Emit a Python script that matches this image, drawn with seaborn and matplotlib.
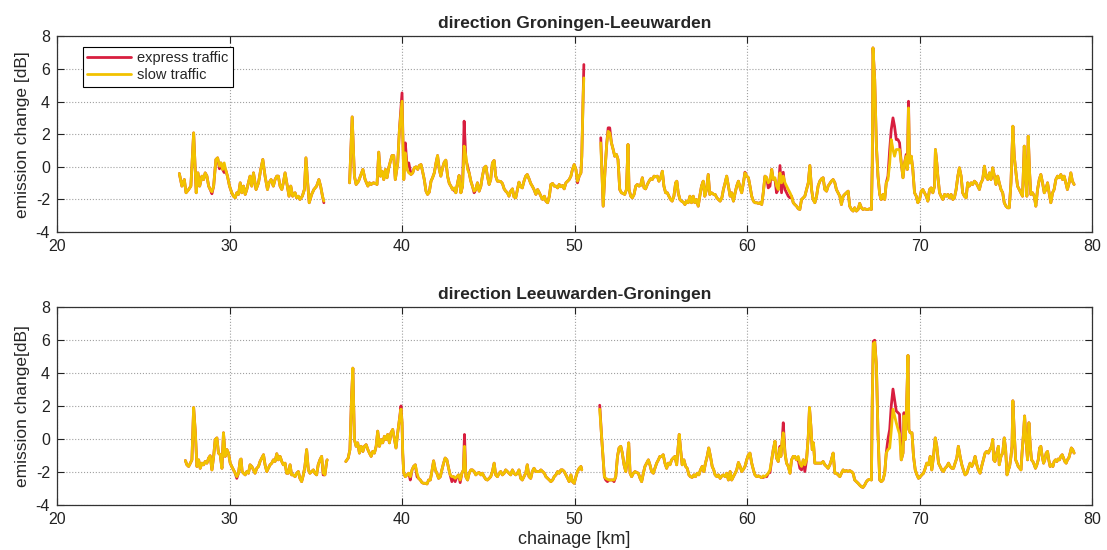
import matplotlib
matplotlib.use("Agg")
import matplotlib.pyplot as plt
import pandas as pd
import seaborn as sns

# ---------------- data: emission change [dB] along the chainage [km] ----------------
# direction Groningen-Leeuwarden (top)
top_km_1 = [27.09, 27.24, 27.38, 27.48, 27.63, 27.76, 27.92, 28.07, 28.17, 28.27,
            28.40, 28.50, 28.59, 28.69, 28.79, 28.88, 28.98, 29.08, 29.21, 29.31,
            29.42, 29.50, 29.60, 29.69, 29.77, 29.88, 30.00, 30.13, 30.23, 30.33,
            30.42, 30.52, 30.62, 30.71, 30.81, 30.91, 31.00, 31.19, 31.29, 31.39,
            31.54, 31.68, 31.81, 31.93, 32.06, 32.20, 32.29, 32.41, 32.54, 32.64,
            32.74, 32.83, 32.93, 33.03, 33.12, 33.22, 33.35, 33.45, 33.55, 33.66,
            33.80, 33.89, 33.99, 34.08, 34.22, 34.34, 34.43, 34.53, 34.62, 34.76,
            34.89, 35.05, 35.18, 35.28, 35.39, 35.47]
top_slow_1 = [-0.41, -1.18, -0.78, -1.59, -1.39, -1.18, 2.08, -1.59, -0.37, -1.18,
              -0.57, -0.78, -0.37, -0.57, -1.18, -1.39, -1.53, -1.18, 0.45, 0.55,
              0.04, 0.24, -0.16, 0.24, -0.16, -0.57, -1.18, -1.59, -1.80, -1.90,
              -1.59, -1.69, -0.98, -1.59, -1.18, -1.69, -1.39, -0.57, -1.18, -0.37,
              -1.39, -0.98, -0.16, 0.45, -0.57, -1.39, -0.98, -0.78, -1.18, -0.78,
              -0.57, -0.57, -1.18, -1.39, -0.98, -0.37, -1.18, -1.80, -1.18, -1.80,
              -1.59, -1.90, -1.80, -2.00, -1.80, -1.39, 0.55, -0.98, -2.20, -1.69,
              -1.39, -1.18, -0.78, -1.18, -1.80, -2.10]

top_km_2 = [36.96, 37.11, 37.24, 37.34, 37.48, 37.59, 37.73, 37.86, 38.02, 38.11,
            38.21, 38.34, 38.46, 38.55, 38.65, 38.75, 38.84, 38.94, 39.04, 39.13,
            39.23, 39.33, 39.42, 39.52, 39.61, 39.75, 39.85, 40.00,
            40.10, 40.19, 40.29, 40.39,
            40.52, 40.62, 40.71, 40.81, 40.91, 41.00, 41.10, 41.19, 41.29, 41.39,
            41.48, 41.58, 41.68, 41.77, 41.87, 41.97, 42.06, 42.16, 42.25, 42.35,
            42.45, 42.54, 42.64, 42.74, 42.83, 42.93, 43.03, 43.12, 43.22, 43.31,
            43.41, 43.51, 43.60, 43.70, 43.80, 43.89, 43.99, 44.08, 44.18, 44.28,
            44.37, 44.47, 44.57, 44.66, 44.76, 44.86, 44.95, 45.05, 45.14, 45.24,
            45.34, 45.43, 45.53, 45.63, 45.72, 45.82, 45.92, 46.01, 46.11, 46.20,
            46.30, 46.40, 46.49, 46.59, 46.69, 46.78, 46.88, 46.97, 47.07, 47.17,
            47.26, 47.36, 47.46, 47.55, 47.65,
            47.76, 47.86, 47.96, 48.05, 48.15, 48.25, 48.34, 48.44, 48.54, 48.63,
            48.73, 48.82, 48.92, 49.02, 49.11, 49.21, 49.31, 49.40, 49.50, 49.60,
            49.69, 49.79, 49.88, 49.98, 50.08, 50.17, 50.27, 50.37, 50.42, 50.50,
            50.54]
top_slow_2 = [-0.98, 3.06, -0.57, -1.08, -0.88, -0.57, -0.16, -0.78, -1.18, -0.98,
              -1.08, -0.98, -1.02, -1.08, 0.90, -0.57, -0.27, -0.78, -0.16, -0.67,
              -0.06, 0.35, 0.69, 0.69, -0.78, 0.24, 2.29, 4.02,
              -0.78, 0.86, -0.16, -0.37,
              -0.47, -0.37, -0.06, 0.00, -0.16, 0.08, 0.14, -0.27, -0.78, -1.49,
              -1.69, -1.55, -0.88, -0.67, -0.37, 0.24, 0.69, -0.16, -0.57, -0.06,
              0.29, 0.41, -0.57, -1.02, -1.18, -1.39, -1.29, -1.59, -0.98, -0.53,
              -1.59, -1.18, 1.27, 0.65, -0.16, -0.37, -0.88, -1.18, -1.49, -1.39,
              -0.98, -1.49, -1.18, -0.57, -0.06, 0.04, -0.57, -1.08, -0.78, 0.24,
              0.39, -0.57, -0.88, -0.88, -0.90, -1.02, -1.35, -1.49, -1.59, -1.80,
              -1.49, -1.35, -1.84, -1.90, -1.39, -0.94, -1.22, -1.29, -0.88, -0.57,
              -0.47, -0.73, -1.02, -1.18, -1.39,
              -1.69, -1.39, -1.59, -1.80, -2.00, -1.80, -2.10, -2.20, -1.80, -1.08,
              -1.02, -1.18, -1.18, -1.29, -1.08, -1.22, -1.14, -1.35, -0.98, -0.88,
              -0.78, -0.57, -0.16, 0.14, -0.16, -0.88, -0.57, -0.37, 0.65, 4.33,
              5.45]

top_km_3 = [51.52, 51.66, 51.77, 51.87, 51.95, 52.04, 52.14, 52.24, 52.33, 52.43,
            52.52, 52.62, 52.72, 52.81, 52.91, 53.01, 53.10, 53.16,
            53.26, 53.35, 53.45, 53.55, 53.64, 53.74, 53.83, 53.93, 54.03, 54.12,
            54.22, 54.32, 54.41, 54.51, 54.61, 54.70, 54.80, 54.89, 54.99, 55.09,
            55.18, 55.28, 55.38, 55.47, 55.57, 55.66, 55.76, 55.86, 55.93,
            56.01, 56.11, 56.20, 56.30, 56.40, 56.49, 56.59, 56.69, 56.78, 56.88,
            56.97, 57.07, 57.17, 57.26, 57.36, 57.46, 57.55, 57.65, 57.75, 57.84,
            57.94, 58.07,
            58.15, 58.25, 58.34, 58.44, 58.54, 58.63, 58.73, 58.82, 58.92, 59.02,
            59.11, 59.21, 59.31, 59.40, 59.50, 59.60, 59.69, 59.79, 59.88,
            59.98, 60.08, 60.17, 60.27, 60.37, 60.46, 60.56, 60.66, 60.75, 60.85,
            60.94, 61.04, 61.14, 61.23, 61.33, 61.43, 61.52, 61.62, 61.71, 61.81,
            61.91, 62.00, 62.10, 62.20, 62.29, 62.39, 62.49, 62.58, 62.68, 62.77,
            62.87, 62.97, 63.06, 63.16, 63.26, 63.35, 63.45, 63.55, 63.64, 63.74,
            63.83, 63.93, 64.03, 64.12, 64.22, 64.32, 64.41, 64.51, 64.61, 64.70,
            64.80, 64.89, 64.99, 65.09, 65.18, 65.28, 65.38, 65.47, 65.57, 65.66,
            65.76, 65.86, 65.95, 66.05, 66.15, 66.24, 66.34, 66.44, 66.53, 66.63,
            66.72, 66.82, 66.92, 67.01, 67.11, 67.21, 67.26, 67.30,
            67.40, 67.50, 67.59, 67.69, 67.78, 67.88, 67.98, 68.07, 68.17, 68.27,
            68.36,
            68.46, 68.55, 68.65, 68.75, 68.84, 68.94, 69.04, 69.13, 69.23, 69.29,
            69.36,
            69.42, 69.52, 69.61, 69.71, 69.81, 69.90, 70.00, 70.10, 70.19, 70.29,
            70.39, 70.48, 70.58, 70.67, 70.77, 70.87, 70.92, 71.00,
            71.06, 71.16, 71.25, 71.35, 71.45, 71.54, 71.64, 71.73, 71.83, 71.93,
            72.02, 72.12, 72.22, 72.31, 72.41, 72.50, 72.60, 72.70, 72.79, 72.89,
            72.99, 73.08, 73.18, 73.28, 73.37, 73.47, 73.56, 73.66, 73.76, 73.85,
            73.95, 74.05, 74.14, 74.24, 74.34, 74.43, 74.53, 74.62, 74.72, 74.82,
            74.91, 75.01, 75.11, 75.20, 75.30, 75.41,
            75.49, 75.59, 75.68, 75.78, 75.88, 75.97, 76.07, 76.15, 76.22, 76.30,
            76.38,
            76.45, 76.55, 76.65, 76.74, 76.84, 76.94, 77.03, 77.13, 77.23, 77.32,
            77.42, 77.51, 77.61, 77.71, 77.80, 77.90, 78.00, 78.09, 78.19, 78.29,
            78.38, 78.48, 78.57, 78.67, 78.77, 78.86, 78.96]
top_slow_3 = [1.47, -2.41, -0.16, 1.47, 2.18, 2.08, 1.47, 1.06, 0.65, 0.76,
              0.45, -1.39, -1.59, -1.63, -1.69, -1.39, 1.37, -1.39,
              -1.80, -1.90, -1.69, -1.18, -1.08, -1.18, -1.14, -0.67, -1.29, -1.35,
              -1.08, -0.88, -0.73, -0.78, -0.57, -0.61, -0.57, -0.88, -0.67, -0.27,
              -1.18, -1.59, -1.59, -1.80, -2.00, -2.10, -1.80, -0.98, -0.88,
              -1.59, -2.00, -2.10, -2.16, -2.31, -2.10, -2.20, -1.80, -2.20, -1.80,
              -2.20, -2.00, -2.41, -1.80, -1.18, -0.88, -1.80, -1.39, -0.47, -1.69,
              -1.59, -1.69,
              -1.69, -1.90, -2.00, -2.10, -1.90, -1.39, -0.98, -0.57, -1.18, -1.80,
              -1.59, -2.10, -1.59, -1.18, -0.88, -1.29, -1.59, -0.98, -0.37,
              -0.57, -0.67, -1.18, -1.80, -2.10, -2.20, -2.20, -2.24, -2.20, -2.31,
              -1.59, -0.57, -0.67, -0.98, -0.88, -0.16, -0.78, -0.67, -1.18, -1.39,
              -0.37, -0.98, -0.57, -0.98, -1.18, -1.39, -1.59, -1.80, -2.20, -2.31,
              -2.41, -2.57, -2.61, -2.00, -1.90, -1.80, -1.39, -0.98, 0.08, -1.39,
              -2.00, -2.20, -1.80, -1.18, -0.88, -0.73, -0.67, -1.39, -1.49, -1.18,
              -1.02, -0.88, -0.78, -0.98, -1.39, -1.59, -1.80, -2.31, -1.80, -1.69,
              -1.59, -1.49, -2.41, -2.61, -2.71, -2.51, -2.71, -2.61, -2.24, -2.51,
              -2.61, -2.57, -2.61, -2.61, -2.57, -2.61, 0.24, 7.29,
              5.35, 1.27, -0.57, -1.69, -2.00, -1.69, -2.00, -0.98, -0.78, 0.24,
              1.67,
              1.06, 0.65, 1.06, 1.06, 1.06, 0.24, -0.67, 0.24, 0.65, -0.16,
              3.61,
              0.24, 0.65, -0.16, -1.59, -1.80, -2.20, -2.00, -1.49, -1.39, -1.59,
              -1.80, -2.10, -1.39, -1.29, -1.59, -1.18, 1.06, 0.24,
              -0.57, -1.59, -1.80, -2.00, -1.69, -1.80, -1.69, -1.90, -1.69, -2.00,
              -1.90, -1.39, -0.57, -0.06, -0.57, -1.59, -1.80, -1.90, -0.98, -1.18,
              -0.98, -1.08, -0.88, -0.98, -1.18, -1.39, -0.98, -0.78, 0.04, -0.57,
              -0.78, -0.37, -0.78, -0.06, -0.57, -1.08, -0.57, -0.98, -1.39, -1.59,
              -2.20, -2.41, -2.51, -2.51, -0.98, 2.49,
              0.65, -0.37, -1.18, -1.39, -1.59, -1.80, 1.27, -0.57, -1.80, 1.88,
              -0.37,
              -1.69, -1.59, -1.80, -2.41, -1.39, -0.78, -0.47, -0.98, -1.59, -1.39,
              -0.98, -1.59, -2.20, -1.59, -1.39, -0.78, -0.57, -0.67, -0.47, -0.78,
              -0.57, -0.98, -1.39, -0.98, -0.37, -0.88, -1.08]

# express traffic equals slow traffic except at these chainages
top_express_km = [28.98, 29.42, 29.69, 35.47, 40.00, 40.19, 40.29, 40.39, 43.03, 43.60,
                  43.70, 43.80, 44.18, 50.17, 50.54, 51.52, 51.95, 52.04, 59.88, 61.23,
                  61.33, 61.62, 61.71, 61.91, 62.00, 62.10, 62.20, 62.29, 62.39, 62.49,
                  68.17, 68.27, 68.36, 68.46, 68.55, 68.65, 68.75, 68.84, 69.23, 69.36]
top_express_val = [-1.65, -0.12, -0.35, -2.20, 4.53, 1.47, 0.04, 0.24, -1.45, 2.80,
                   0.45, 0.04, -1.59, -0.98, 6.27, 1.78, 2.39, 2.39, -0.33, -1.29,
                   -1.18, -0.78, -1.59, 0.08, -1.59, -0.33, -1.39, -1.59, -1.80, -1.90,
                   -0.57, 1.06, 2.29, 3.00, 2.49, 1.67, 1.67, 1.47, 0.76, 4.02]

# direction Leeuwarden-Groningen (bottom)
bot_km_1 = [27.44, 27.53, 27.63, 27.73, 27.82, 27.92, 28.02, 28.11, 28.21, 28.30,
            28.40, 28.50, 28.59, 28.69, 28.79, 28.88, 28.98, 29.08, 29.17, 29.27,
            29.36, 29.46, 29.56, 29.65, 29.75, 29.85, 29.94, 30.04, 30.13, 30.23,
            30.33, 30.42, 30.52, 30.62, 30.67, 30.73,
            30.81, 30.91, 31.00, 31.10, 31.19, 31.29, 31.39, 31.48, 31.58, 31.68,
            31.77, 31.87, 31.97, 32.06, 32.16, 32.25, 32.35, 32.45, 32.54, 32.64,
            32.74, 32.83, 32.93, 33.03, 33.12, 33.22, 33.31, 33.41, 33.51, 33.60,
            33.70, 33.80, 33.89, 33.99, 34.08, 34.18, 34.28, 34.37, 34.47, 34.57,
            34.66, 34.76, 34.86, 34.95, 35.05, 35.14, 35.24, 35.34, 35.43, 35.53,
            35.63, 35.66]
bot_slow_1 = [-1.31, -1.57, -1.67, -1.47, -1.27, 1.90, 0.37, -1.67, -1.27, -1.78,
              -1.47, -1.57, -1.37, -1.47, -1.16, -1.02, -1.88, -1.06, -0.04, 0.06,
              -0.86, -0.96, -1.78, 0.37, -1.06, -0.65, -0.86, -1.47, -1.67, -1.88,
              -2.08, -2.29, -2.08, -1.27, -1.22, -1.98,
              -2.08, -2.18, -1.98, -2.08, -1.57, -1.67, -1.88, -2.08, -1.78, -1.67,
              -1.37, -1.16, -0.96, -1.57, -1.98, -1.78, -1.57, -1.47, -1.27, -1.37,
              -0.90, -1.27, -1.06, -1.37, -1.57, -1.47, -2.08, -2.08, -1.57, -2.18,
              -2.18, -2.29, -2.08, -1.98, -2.39, -2.59, -2.18, -1.67, -0.65, -1.88,
              -2.08, -1.98, -1.88, -2.08, -2.18, -1.57, -1.27, -1.06, -2.08, -2.18,
              -1.37, -1.27]

bot_km_2 = [36.74, 36.88, 36.98, 37.07, 37.15,
            37.24, 37.34, 37.43, 37.53, 37.63, 37.73, 37.82, 37.92, 38.02, 38.11,
            38.21, 38.30, 38.40, 38.50, 38.59, 38.69, 38.79, 38.88, 38.98, 39.08,
            39.17, 39.27, 39.36, 39.46, 39.56, 39.65, 39.75, 39.85, 39.94,
            40.00, 40.04,
            40.10, 40.19, 40.29, 40.39, 40.48, 40.58, 40.67, 40.77, 40.87, 40.96,
            41.06, 41.16, 41.25, 41.35, 41.45, 41.54, 41.64, 41.73, 41.83, 41.93,
            42.02, 42.12, 42.22, 42.31, 42.41, 42.50, 42.60, 42.70, 42.79, 42.89,
            42.99, 43.08, 43.18, 43.28, 43.37, 43.47, 43.56, 43.62,
            43.70, 43.80, 43.89, 43.99, 44.08, 44.18, 44.28, 44.37, 44.47, 44.57,
            44.66, 44.76, 44.86, 44.95, 45.05, 45.14, 45.24, 45.34, 45.43, 45.53,
            45.63, 45.72, 45.82, 45.92, 46.01, 46.11, 46.20, 46.30, 46.40, 46.49,
            46.59, 46.69, 46.78, 46.88, 46.97, 47.07, 47.17, 47.26, 47.36, 47.46,
            47.55, 47.65,
            47.76, 47.86, 47.96, 48.05, 48.15, 48.25, 48.34, 48.44, 48.54, 48.63,
            48.73, 48.82, 48.92, 49.02, 49.11, 49.21, 49.31, 49.40, 49.50, 49.60,
            49.69, 49.79, 49.88, 49.98, 50.08, 50.17, 50.27, 50.37, 50.42]
bot_slow_2 = [-1.37, -1.16, -0.65, 2.41, 4.29,
              -0.04, -0.45, -0.24, -0.86, -0.45, -0.76, -0.45, -0.35, -0.65, -0.86,
              -1.06, -0.76, -0.86, -0.45, 0.47, -0.45, -0.04, -0.24, 0.16, -0.04,
              0.27, -0.24, 0.37, 0.57, -0.04, -0.55, 0.37, 1.18, 1.80,
              0.98, -0.86,
              -2.08, -2.29, -2.18, -2.08, -2.29, -1.88, -1.67, -1.57, -2.08, -2.39,
              -2.49, -2.65, -2.69, -2.69, -2.73, -2.49, -2.49, -1.98, -1.33, -1.88,
              -2.08, -2.39, -2.29, -1.88, -1.47, -1.16, -1.27, -1.78, -2.18, -2.29,
              -2.29, -2.39, -2.29, -2.18, -2.49, -2.08, -1.88, -0.45,
              -2.29, -2.49, -2.08, -1.88, -1.88, -1.98, -2.18, -2.08, -2.04, -2.18,
              -2.08, -2.29, -2.45, -2.49, -2.39, -2.29, -1.98, -1.47, -2.18, -2.29,
              -2.08, -1.98, -2.18, -2.08, -1.88, -1.98, -2.08, -2.18, -1.88, -2.08,
              -2.18, -2.08, -1.88, -2.39, -2.49, -2.29, -2.08, -1.57, -2.29, -2.39,
              -1.98, -1.78,
              -1.98, -1.98, -1.98, -1.88, -1.98, -2.08, -2.29, -2.39, -2.49, -2.59,
              -2.49, -2.29, -2.18, -1.98, -2.08, -1.88, -1.88, -1.98, -2.18, -2.39,
              -2.59, -2.18, -2.59, -2.69, -2.29, -1.98, -1.78, -1.67, -1.88]

bot_km_3 = [51.46, 51.58, 51.66, 51.73,
            51.81, 51.91, 52.00, 52.10, 52.20, 52.29, 52.39, 52.49, 52.58, 52.68,
            52.77, 52.87, 52.97, 53.06, 53.14,
            53.22, 53.31, 53.41, 53.51, 53.60, 53.70, 53.80, 53.89, 53.99, 54.08,
            54.18, 54.28, 54.37, 54.47, 54.57, 54.66, 54.76, 54.86, 54.95, 55.05,
            55.14, 55.24, 55.34, 55.43, 55.53, 55.63, 55.72, 55.82, 55.92,
            56.01, 56.07,
            56.15, 56.24, 56.34, 56.44, 56.53, 56.63, 56.72, 56.82, 56.92, 57.01,
            57.11, 57.21, 57.30, 57.40, 57.50, 57.59, 57.69, 57.78, 57.88, 57.98,
            58.07,
            58.15, 58.25, 58.34, 58.44, 58.54, 58.63, 58.73, 58.82, 58.92, 59.02,
            59.11, 59.21, 59.31, 59.40, 59.50, 59.60, 59.69, 59.79, 59.88,
            59.98, 60.08, 60.17, 60.27, 60.37, 60.46, 60.56, 60.66, 60.75, 60.85,
            60.94, 61.04, 61.14, 61.23, 61.33, 61.43, 61.52, 61.62, 61.71, 61.81,
            61.91, 61.96, 62.04,
            62.10, 62.20, 62.29, 62.39, 62.49, 62.58, 62.68, 62.77, 62.87, 62.97,
            63.06, 63.16, 63.26, 63.35, 63.45, 63.55, 63.62, 63.70, 63.78, 63.85,
            63.93, 64.03, 64.12, 64.22, 64.32, 64.41, 64.51, 64.61, 64.70, 64.80,
            64.89, 64.99, 65.09, 65.18, 65.28, 65.38, 65.47, 65.57, 65.66, 65.76,
            65.86, 65.95, 66.05, 66.15, 66.24, 66.34, 66.44, 66.53, 66.63, 66.72,
            66.82, 66.92, 67.01, 67.11, 67.21, 67.26, 67.32,
            67.40, 67.50, 67.59, 67.69, 67.78, 67.88, 67.98, 68.07, 68.17, 68.27,
            68.36,
            68.46, 68.55, 68.65, 68.75, 68.84, 68.94, 69.04, 69.10, 69.17, 69.25,
            69.33, 69.38, 69.46, 69.56,
            69.65, 69.75, 69.85, 69.94, 70.04, 70.13, 70.23, 70.33, 70.42, 70.52,
            70.62, 70.71, 70.81,
            70.91, 71.00, 71.10, 71.19, 71.29, 71.39, 71.48, 71.58, 71.68, 71.77,
            71.87, 71.97, 72.06, 72.16, 72.25, 72.35, 72.45, 72.54, 72.64, 72.74,
            72.83, 72.93, 73.03, 73.12, 73.22, 73.32, 73.41, 73.51, 73.60, 73.70,
            73.80, 73.89, 73.99, 74.08, 74.18,
            74.24, 74.30, 74.37, 74.47, 74.57, 74.62, 74.72, 74.82, 74.91, 74.99,
            75.07, 75.15, 75.22, 75.30, 75.36, 75.41, 75.49, 75.57, 75.65, 75.72,
            75.80, 75.88, 75.94, 76.03, 76.09, 76.17, 76.26, 76.34, 76.42,
            76.49, 76.57, 76.65, 76.72, 76.80, 76.88, 76.96, 77.03, 77.11, 77.19,
            77.26, 77.34, 77.42, 77.49, 77.57, 77.65, 77.73, 77.80, 77.88, 77.96,
            78.03, 78.11, 78.19, 78.27, 78.34, 78.42, 78.50, 78.57, 78.65, 78.73,
            78.80, 78.88, 78.96]
bot_slow_3 = [1.80, -0.04, -1.27, -2.29,
              -2.39, -2.45, -2.49, -2.49, -2.49, -2.49, -2.29, -1.06, -0.55, -0.45,
              -0.86, -1.57, -1.98, -1.27, -0.24,
              -2.08, -2.29, -2.08, -1.98, -2.04, -2.08, -2.39, -2.59, -2.08, -1.67,
              -1.47, -1.27, -1.57, -1.98, -2.08, -1.78, -1.47, -1.27, -1.06, -1.06,
              -0.96, -1.47, -1.78, -1.47, -1.57, -1.27, -1.16, -1.06, -1.57,
              -0.45, 0.27,
              -0.65, -1.57, -1.27, -1.67, -1.78, -2.18, -2.29, -2.33, -2.18, -2.29,
              -2.08, -2.18, -1.88, -1.67, -1.98, -1.47, -1.06, -0.55, -1.06, -1.67,
              -1.88,
              -2.18, -2.29, -2.18, -2.39, -2.24, -2.18, -2.29, -2.08, -2.49, -1.98,
              -2.49, -2.29, -2.08, -1.88, -1.43, -1.67, -1.98, -1.84, -1.67,
              -1.27, -0.96, -0.86, -1.47, -1.88, -2.18, -2.29, -2.24, -2.29, -2.35,
              -2.24, -2.29, -2.18, -2.08, -1.88, -1.27, -0.65, -0.14, -1.16, -1.37,
              -0.55, -1.06, -0.04,
              0.37, -0.86, -1.47, -1.67, -2.08, -1.27, -1.06, -1.06, -1.27, -1.06,
              -1.47, -1.67, -1.27, -1.57, -1.27, 0.16, 1.90, 0.78, -0.65, -0.24,
              -1.47, -1.47, -1.47, -1.47, -1.47, -1.37, -1.57, -1.67, -1.78, -1.57,
              -1.27, -0.86, -2.08, -2.08, -2.18, -2.29, -2.08, -1.88, -1.98, -1.92,
              -1.98, -1.92, -1.98, -2.08, -2.49, -2.59, -2.69, -2.80, -2.90, -2.94,
              -2.80, -2.59, -2.49, -2.45, -2.49, 2.41, 5.78,
              5.86, 4.45, 0.37, -2.49, -2.59, -2.49, -2.08, -0.86, -0.65, -0.55,
              0.50,
              1.80, 1.40, 0.98, 0.60, 0.30, -1.27, -0.86, 1.39, -0.04, 2.00,
              5.06, 0.57, 0.37, 0.37,
              -1.06, -1.88, -2.18, -2.39, -2.29, -2.18, -2.08, -1.78, -1.47, -1.57,
              -1.06, -1.88, -1.06,
              0.06, -0.45, -1.47, -1.67, -1.88, -1.98, -1.78, -1.67, -1.47, -1.67,
              -1.78, -1.78, -1.47, -1.16, -0.45, -1.06, -1.57, -1.88, -2.18, -2.08,
              -1.78, -1.47, -1.67, -1.47, -1.06, -1.57, -1.88, -2.08, -1.67, -1.27,
              -0.86, -0.76, -0.86, -0.65, -0.45,
              -0.04, -1.27, -1.37, -0.86, -0.45, -1.57, -1.06, -0.86, 0.06, -0.65,
              -2.18, -1.88, -1.67, -1.06, -0.45, 2.31, 0.37, -1.27, -1.47, -1.67,
              -1.78, -1.88, -0.86, 0.37, 1.39, -0.04, -1.27, 0.98, -0.45,
              -1.27, -1.37, -1.57, -1.78, -1.57, -1.27, -0.55, -0.45, -1.06, -1.47,
              -1.27, -0.86, -0.76, -1.27, -1.67, -1.57, -1.67, -1.37, -1.27, -1.37,
              -1.22, -1.27, -1.06, -0.96, -1.16, -1.37, -1.47, -1.27, -1.16, -0.86,
              -0.55, -0.65, -0.86]

bot_express_km = [30.42, 35.43, 39.94, 40.48, 40.87, 42.89, 43.08, 43.37, 43.62, 51.46,
                  51.81, 51.91, 52.29, 60.94, 61.14, 61.33, 61.91, 62.10, 62.97, 63.06,
                  63.16, 63.35, 67.32, 67.40, 68.17, 68.27, 68.36, 68.46, 68.55, 68.65,
                  68.75, 68.84, 69.10]
bot_express_val = [-2.39, -2.18, 2.00, -2.49, -2.29, -2.59, -2.59, -2.65, 0.27, 2.04,
                   -2.49, -2.59, -2.59, -2.33, -2.29, -2.04, -0.45, 0.98, -1.27, -1.78,
                   -1.88, -1.98, 5.92, 5.98, 0.00, 0.57, 2.00, 3.02, 2.41, 1.69,
                   1.59, 1.49, 1.59]

series_names = ["express traffic", "slow traffic"]
titles = ["direction Groningen-Leeuwarden", "direction Leeuwarden-Groningen"]
ylabels = ["emission change [dB]", "emission change[dB]"]
xlabel = "chainage [km]"
x_ticks = [20, 30, 40, 50, 60, 70, 80]
y_ticks = [-4, -2, 0, 2, 4, 6, 8]

colors = {"express traffic": "#d81e3f", "slow traffic": "#f2c200"}


def build_frame(km_segments, slow_segments, exp_km, exp_val):
    override = dict(zip(exp_km, exp_val))
    all_km = [k for seg in km_segments for k in seg]
    missing = [k for k in exp_km if k not in all_km]
    assert not missing, missing
    rows = []
    for seg, (kms, slows) in enumerate(zip(km_segments, slow_segments)):
        assert len(kms) == len(slows), (seg, len(kms), len(slows))
        for k, s in zip(kms, slows):
            rows.append((k, override.get(k, s), "express traffic", seg))
            rows.append((k, s, "slow traffic", seg))
    return pd.DataFrame(rows, columns=["km", "value", "series", "seg"])


frames = [
    build_frame([top_km_1, top_km_2, top_km_3], [top_slow_1, top_slow_2, top_slow_3],
                top_express_km, top_express_val),
    build_frame([bot_km_1, bot_km_2, bot_km_3], [bot_slow_1, bot_slow_2, bot_slow_3],
                bot_express_km, bot_express_val),
]

sns.set_style("ticks")
plt.rcParams["font.family"] = ["Liberation Sans", "DejaVu Sans"]
plt.rcParams["axes.unicode_minus"] = False

fig = plt.figure(figsize=(11.07, 5.5), dpi=100)
ax_top = fig.add_axes([0.0515, 0.578, 0.935, 0.356])
ax_bot = fig.add_axes([0.0515, 0.082, 0.935, 0.360])

for i, (ax, df) in enumerate(zip([ax_top, ax_bot], frames)):
    sns.lineplot(data=df, x="km", y="value", hue="series", units="seg",
                 estimator=None, sort=False, hue_order=series_names,
                 palette=colors, linewidth=2.0, ax=ax, legend=(i == 0))
    ax.set_xlim(20, 80)
    ax.set_ylim(-4, 8)
    ax.set_xticks(x_ticks)
    ax.set_yticks(y_ticks)
    ax.set_axisbelow(True)
    ax.grid(True, linestyle=":", color="#a0a0a0", linewidth=0.8)
    ax.tick_params(direction="in", top=True, right=True, length=5, width=0.8,
                   labelsize=11.5, colors="#222222", pad=5)
    for sp in ax.spines.values():
        sp.set_color("#333333")
        sp.set_linewidth(0.9)
    ax.set_title(titles[i], fontsize=12.5, fontweight="bold", pad=6)
    ax.set_ylabel(ylabels[i], fontsize=12.5, labelpad=4)
    ax.set_xlabel("")

ax_bot.set_xlabel(xlabel, fontsize=13, labelpad=3)

old = ax_top.get_legend()
handles = old.legend_handles
labels = [t.get_text() for t in old.texts]
old.remove()
leg = ax_top.legend(handles, labels, loc="upper left", bbox_to_anchor=(0.025, 0.946),
                    borderaxespad=0, frameon=True, fancybox=False, framealpha=1,
                    edgecolor="black", fontsize=10.5, handlelength=3.0,
                    borderpad=0.3, labelspacing=0.2, handletextpad=0.4)
leg.get_frame().set_linewidth(0.8)
for h in leg.legend_handles:
    h.set_linewidth(2.0)

fig.savefig("out.png", dpi=100)
